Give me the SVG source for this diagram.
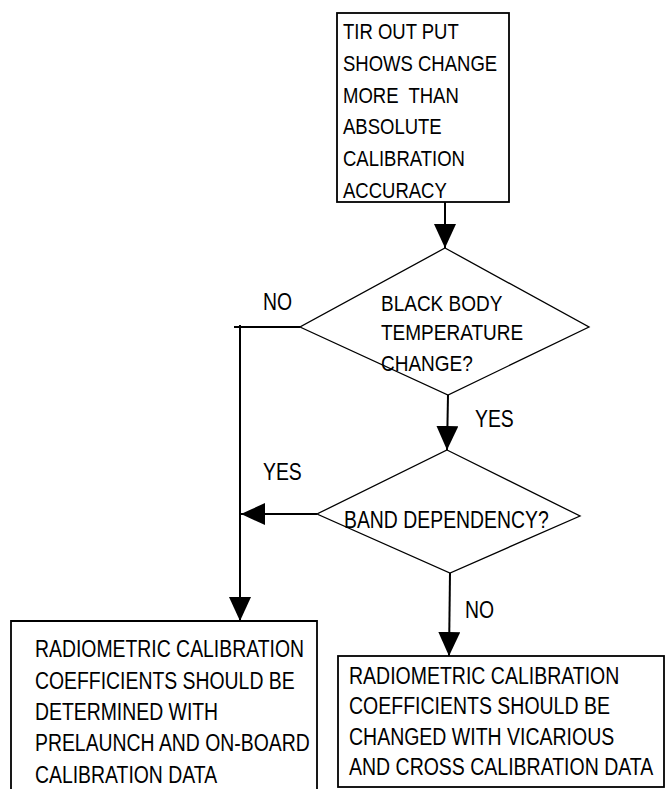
<svg xmlns="http://www.w3.org/2000/svg" width="665" height="789" viewBox="0 0 665 789">
<style>
  .bg { fill: #ffffff; }
  .box { fill: #ffffff; stroke: #000000; stroke-width: 1.8; }
  .dia { fill: #ffffff; stroke: #000000; stroke-width: 1.3; }
  .t { font-family: "Liberation Sans", Arial, sans-serif; font-size: 19.4px; fill: #000000; white-space: pre; }
  .c { fill: none; stroke: #000000; stroke-width: 2; }
</style>
<defs>
  <marker id="ah" markerUnits="userSpaceOnUse" markerWidth="25" markerHeight="23" refX="24" refY="11" orient="auto" viewBox="0 0 25 23">
    <path d="M0,0 L24,11 L0,22 z" fill="#000000"/>
  </marker>
</defs>
<rect class="bg" x="0" y="0" width="665" height="789"/>

<g id="connectors">
  <line class="c" x1="445" y1="202" x2="445" y2="248" marker-end="url(#ah)"/>
  <polyline class="c" points="300,327 234,327"/>
  <line class="c" x1="240" y1="325" x2="240" y2="621" marker-end="url(#ah)"/>
  <line class="c" x1="448" y1="395" x2="447" y2="450" marker-end="url(#ah)"/>
  <line class="c" x1="317" y1="514" x2="241" y2="514" marker-end="url(#ah)"/>
  <line class="c" x1="450" y1="573" x2="449" y2="656" marker-end="url(#ah)"/>
</g>

<g id="labels">
  <text class="t" transform="translate(263,310) scale(1,1.19)">NO</text>
  <text class="t" transform="translate(475,427) scale(1,1.19)">YES</text>
  <text class="t" transform="translate(263,480) scale(1,1.19)">YES</text>
  <text class="t" transform="translate(465,618) scale(1,1.19)">NO</text>
</g>

<g id="node-tir">
  <rect class="box" x="337" y="13" width="172" height="189"/>
  <text class="t" style="font-size:18.5px" transform="translate(343,39) scale(1,1.24)">TIR OUT PUT</text>
  <text class="t" style="font-size:18.5px" transform="translate(343,71) scale(1,1.24)">SHOWS CHANGE</text>
  <text class="t" style="font-size:18.5px" transform="translate(343,103) scale(1,1.24)">MORE  THAN</text>
  <text class="t" style="font-size:18.5px" transform="translate(343,134) scale(1,1.24)">ABSOLUTE</text>
  <text class="t" style="font-size:18.5px" transform="translate(343,166) scale(1,1.24)">CALIBRATION</text>
  <text class="t" style="font-size:18.5px" transform="translate(343,198) scale(1,1.24)">ACCURACY</text>
</g>

<g id="node-blackbody">
  <polygon class="dia" points="445,248 589,327 448,395 300,327"/>
  <text class="t" style="font-size:19px" transform="translate(381,311) scale(1,1.21)">BLACK BODY</text>
  <text class="t" style="font-size:19px" transform="translate(381,340) scale(1,1.21)">TEMPERATURE</text>
  <text class="t" style="font-size:19px" transform="translate(381,371) scale(1,1.21)">CHANGE?</text>
</g>

<g id="node-band">
  <polygon class="dia" points="447,450 580,516 450,573 317,514"/>
  <text class="t" transform="translate(344,528) scale(1,1.19)">BAND DEPENDENCY?</text>
</g>

<g id="node-prelaunch">
  <path class="box" d="M11,795 L11,621 L317,621 L317,795"/>
  <text class="t" transform="translate(35,657) scale(1,1.19)">RADIOMETRIC CALIBRATION</text>
  <text class="t" transform="translate(35,689) scale(1,1.19)">COEFFICIENTS SHOULD BE</text>
  <text class="t" transform="translate(35,720) scale(1,1.19)">DETERMINED WITH</text>
  <text class="t" transform="translate(35,751) scale(1,1.19)">PRELAUNCH AND ON-BOARD</text>
  <text class="t" transform="translate(35,783) scale(1,1.19)">CALIBRATION DATA</text>
</g>

<g id="node-vicarious">
  <rect class="box" x="338" y="656" width="326" height="131"/>
  <text class="t" style="font-size:19.5px" transform="translate(349,684) scale(1,1.18)">RADIOMETRIC CALIBRATION</text>
  <text class="t" style="font-size:19.5px" transform="translate(349,714) scale(1,1.18)">COEFFICIENTS SHOULD BE</text>
  <text class="t" style="font-size:19.5px" transform="translate(349,745) scale(1,1.18)">CHANGED WITH VICARIOUS</text>
  <text class="t" style="font-size:19.5px" transform="translate(349,775) scale(1,1.18)">AND CROSS CALIBRATION DATA</text>
</g>
</svg>
